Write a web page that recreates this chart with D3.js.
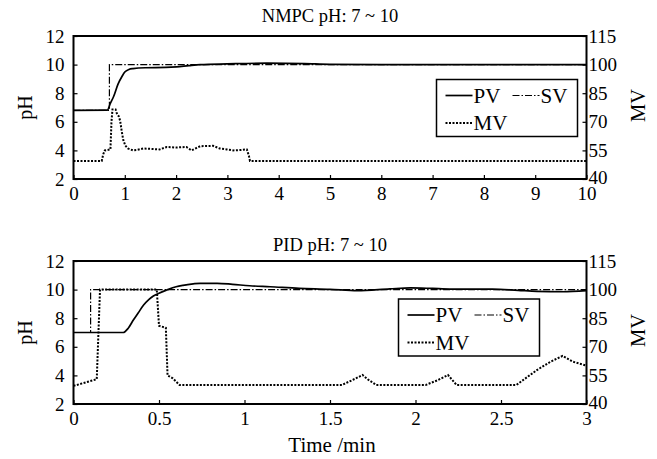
<!DOCTYPE html>
<html>
<head>
<meta charset="utf-8">
<script src="https://cdn.jsdelivr.net/npm/d3@7"></script>
<style>
    body { margin: 0; background: #fff; }
    svg text { font-family: "Times New Roman", "Liberation Serif", Times, serif; fill: #000; }
</style>
</head>
<body>
<div id="chart"></div>
<script>
// NMPC panel (time in min, pH on left axis, MV on right axis)
const nmpcXTicks = [0, 1, 2, 3, 4, 5, 6, 7, 8, 9, 10];
const nmpcXLabels = ["0", "1", "2", "3", "4", "5", "8", "7", "8", "9", "10"];
const nmpcPV = [[0, 6.8], [0.66, 6.82], [0.72, 7.3], [0.78, 7.75], [0.87, 8.65], [0.95, 9.2], [1.0, 9.48],
    [1.08, 9.66], [1.16, 9.72], [1.4, 9.78], [1.8, 9.8], [2.01, 9.84], [2.25, 9.93], [2.47, 10.0],
    [3.0, 10.05], [3.77, 10.1], [4.5, 10.07], [5.0, 10.02], [6, 10.0], [10, 10.0]];
const nmpcSV = [[0, 6.8], [0.7, 6.8], [0.7, 10], [10, 10]];
const nmpcMV = [[0, 49.5], [0.55, 49.5], [0.58, 53], [0.61, 55], [0.72, 55.5], [0.74, 70], [0.76, 76.5],
    [0.82, 76.5], [0.85, 74], [0.88, 73], [0.91, 70.5], [0.94, 65], [0.97, 60.5], [1.01, 57.5],
    [1.06, 56], [1.16, 55], [1.25, 55.3], [1.36, 56], [1.5, 55.8], [1.68, 55.5], [1.82, 56.8],
    [2.0, 56.5], [2.2, 56.8], [2.3, 55], [2.47, 57.2], [2.72, 57.4], [2.85, 56], [2.99, 55.5],
    [3.11, 55], [3.25, 55.2], [3.38, 55.5], [3.42, 52], [3.44, 49.5], [10, 49.5]];

// PID panel
const pidXTicks = [0, 0.5, 1, 1.5, 2, 2.5, 3];
const pidXLabels = ["0", "0.5", "1", "1.5", "2", "2.5", "3"];
const pidPV = [[0, 7], [0.29, 7], [0.32, 7.3], [0.35, 7.87], [0.38, 8.4], [0.41, 8.92], [0.44, 9.3],
    [0.467, 9.55], [0.5, 9.75], [0.545, 9.97], [0.6, 10.2], [0.64, 10.3], [0.7, 10.4], [0.74, 10.44],
    [0.84, 10.44], [0.93, 10.37], [1.03, 10.27], [1.15, 10.2], [1.32, 10.09], [1.5, 10.02],
    [1.66, 9.92], [1.85, 10.05], [1.97, 10.12], [2.1, 10.08], [2.2, 10.04], [2.45, 10.04],
    [2.6, 9.95], [2.71, 9.88], [2.86, 9.85], [3.0, 9.93]];
const pidSV = [[0, 7], [0.1, 7], [0.1, 10], [3, 10]];
const pidMV = [[0, 49.5], [0.136, 53], [0.155, 100], [0.487, 100], [0.5, 81], [0.54, 80], [0.55, 55],
    [0.58, 53.5], [0.62, 50], [1.57, 50], [1.63, 52.5], [1.69, 55.2], [1.72, 53], [1.77, 50],
    [2.06, 50], [2.13, 52.5], [2.19, 55.2], [2.24, 50], [2.59, 50], [2.71, 57.8], [2.79, 62.2],
    [2.86, 65.2], [2.92, 62.2], [3.0, 60.1]];

// shared axes
const phTicks = [2, 4, 6, 8, 10, 12];
const mvTicks = [40, 55, 70, 85, 100, 115];
const legendItems = ["PV", "SV", "MV"];

const width = 657, height = 459;
const fontSize = 19;
const labelSize = 21;
const serif = '"Times New Roman", "Liberation Serif", Times, serif';

const svg = d3.select("#chart").append("svg")
    .attr("width", width)
    .attr("height", height);

const dashes = { PV: null, SV: "7,2,1.5,2", MV: "2,1.5" };
const strokeW = { PV: 1.7, SV: 1.2, MV: 2 };

function drawPanel(opts) {
    const left = 73.5, right = 586.5;
    const top = opts.top, bottom = opts.top + 143;

    const x = d3.scaleLinear().domain(opts.xDomain).range([left, right]);
    const yPH = d3.scaleLinear().domain([2, 12]).range([bottom, top]);
    const yMV = d3.scaleLinear().domain([40, 115]).range([bottom, top]);

    const g = svg.append("g");

    // axes with inward ticks
    const xAxis = g.append("g")
        .attr("transform", `translate(0,${bottom})`)
        .call(d3.axisBottom(x).tickValues(opts.xTicks)
            .tickFormat((d, i) => opts.xLabels[i])
            .tickSize(-4).tickSizeOuter(0).tickPadding(8));

    const yAxisL = g.append("g")
        .attr("transform", `translate(${left},0)`)
        .call(d3.axisLeft(yPH).tickValues(phTicks).tickSize(-4).tickSizeOuter(0).tickPadding(9));

    const yAxisR = g.append("g")
        .attr("transform", `translate(${right},0)`)
        .call(d3.axisRight(yMV).tickValues(mvTicks).tickSize(-4).tickSizeOuter(0).tickPadding(2));

    [xAxis, yAxisL, yAxisR].forEach(a => {
        a.attr("font-family", null).attr("font-size", null);
        a.select(".domain").remove();
        a.selectAll(".tick line").attr("stroke", "#000").attr("stroke-width", 1.2);
        a.selectAll("text")
            .style("font-family", serif)
            .style("font-size", fontSize + "px")
            .attr("fill", "#000");
    });
    // the lowest MV label sits just above the x labels, as in the source
    yAxisR.selectAll(".tick text").filter(d => d === 40).attr("dy", "0.22em");

    // frame
    g.append("rect")
        .attr("x", left).attr("y", top)
        .attr("width", right - left).attr("height", bottom - top)
        .attr("fill", "none")
        .attr("stroke", "#000")
        .attr("stroke-width", 2);

    const linePH = d3.line().x(d => x(d[0])).y(d => yPH(d[1]));
    const lineMV = d3.line().x(d => x(d[0])).y(d => yMV(d[1]));

    g.append("path")
        .datum(opts.sv)
        .attr("d", linePH)
        .attr("fill", "none")
        .attr("stroke", "#000")
        .attr("stroke-width", strokeW.SV)
        .attr("stroke-dasharray", dashes.SV);

    g.append("path")
        .datum(opts.mv)
        .attr("d", lineMV)
        .attr("fill", "none")
        .attr("stroke", "#000")
        .attr("stroke-width", strokeW.MV)
        .attr("stroke-dasharray", dashes.MV);

    g.append("path")
        .datum(opts.pv)
        .attr("d", linePH.curve(d3.curveMonotoneX))
        .attr("fill", "none")
        .attr("stroke", "#000")
        .attr("stroke-width", strokeW.PV);

    // titles and axis labels
    g.append("text")
        .attr("x", (left + right) / 2)
        .attr("y", opts.titleY)
        .attr("text-anchor", "middle")
        .style("font-size", "18.5px")
        .text(opts.title);

    g.append("text")
        .attr("transform", `translate(25,${(top + bottom) / 2}) rotate(-90)`)
        .attr("text-anchor", "middle")
        .attr("dominant-baseline", "central")
        .style("font-size", "20px")
        .text("pH");

    g.append("text")
        .attr("transform", `translate(638,${(top + bottom) / 2 - 2}) rotate(-90)`)
        .attr("text-anchor", "middle")
        .attr("dominant-baseline", "central")
        .style("font-size", "20.5px")
        .text("MV");

    // legend
    const lg = g.append("g").attr("transform", `translate(${opts.legend[0]},${opts.legend[1]})`);
    lg.append("rect")
        .attr("width", 141).attr("height", 57)
        .attr("fill", "#fff")
        .attr("stroke", "#000")
        .attr("stroke-width", 1.5);

    const pos = { PV: [9, 16], SV: [76, 16], MV: [9, 43.5] };
    legendItems.forEach(k => {
        const [lx, ly] = pos[k];
        lg.append("line")
            .attr("x1", lx).attr("x2", lx + 27)
            .attr("y1", ly).attr("y2", ly)
            .attr("stroke", "#000")
            .attr("stroke-width", strokeW[k])
            .attr("stroke-dasharray", dashes[k]);
        lg.append("text")
            .attr("x", lx + 28)
            .attr("y", ly)
            .attr("dominant-baseline", "central")
            .style("font-size", labelSize + "px")
            .text(k);
    });
}

drawPanel({
    top: 36, xDomain: [0, 10], xTicks: nmpcXTicks, xLabels: nmpcXLabels,
    pv: nmpcPV, sv: nmpcSV, mv: nmpcMV,
    title: "NMPC pH: 7 ~ 10", titleY: 22, legend: [436.5, 79.5]
});

drawPanel({
    top: 261, xDomain: [0, 3], xTicks: pidXTicks, xLabels: pidXLabels,
    pv: pidPV, sv: pidSV, mv: pidMV,
    title: "PID pH: 7 ~ 10", titleY: 251, legend: [398.5, 299]
});

svg.append("text")
    .attr("x", 332)
    .attr("y", 452)
    .attr("text-anchor", "middle")
    .style("font-size", labelSize + "px")
    .text("Time /min");
</script>
</body>
</html>
